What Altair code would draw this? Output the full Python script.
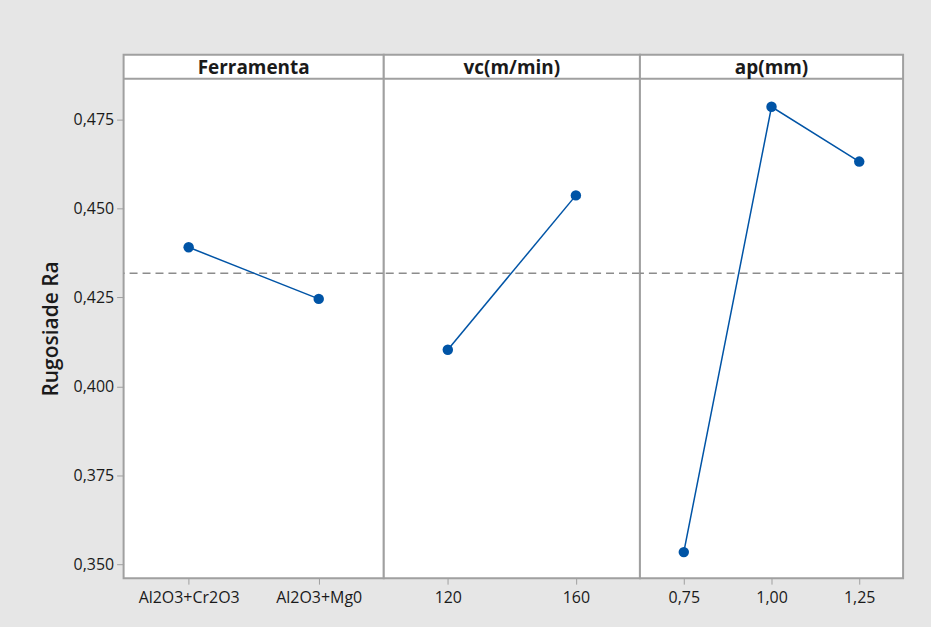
import altair as alt
import pandas as pd

# Main effects for surface roughness Ra (fitted means per factor level)
factors = ["Ferramenta", "vc(m/min)", "ap(mm)"]

ferramenta_levels = ["Al2O3+Cr2O3", "Al2O3+Mg0"]
ferramenta_means = [0.4391, 0.4246]

vc_levels = ["120", "160"]
vc_means = [0.4103, 0.4537]

ap_levels = ["0,75", "1,00", "1,25"]
ap_means = [0.3534, 0.4786, 0.4632]

grand_mean = 0.4318

y_ticks = [0.350, 0.375, 0.400, 0.425, 0.450, 0.475]

FONT = "Open Sans"
BLUE = "#0054a6"
FRAME = "#a0a0a0"
HEADER_H = 24
BODY_H = 501
TOTAL_H = HEADER_H + BODY_H

y_scale = alt.Scale(domain=[0.34608, 0.48649], range=[TOTAL_H, HEADER_H],
                    nice=False, zero=False)


def panel(name, levels, means, width, first):
    df = pd.DataFrame({"level": levels, "Ra": means})
    y_axis = alt.Axis(
        values=y_ticks, format=".3f",
        labelExpr="replace(datum.label, '.', ',')",
        title="Rugosiade Ra", titleFontSize=21, titleFontWeight=600,
        titleFont=FONT, titleColor="#1a1a1a", titlePadding=12,
        tickSize=7, labelPadding=3, domain=False, grid=False,
    ) if first else None
    x = alt.X("level:N", sort=levels, title=None,
              scale=alt.Scale(type="point", padding=0.5),
              axis=alt.Axis(labelAngle=0, tickSize=6, labelPadding=5,
                            domain=False, grid=False))
    y = alt.Y("Ra:Q", scale=y_scale, axis=y_axis)

    base = alt.Chart(df)
    line = base.mark_line(color=BLUE, strokeWidth=1.5).encode(x=x, y=y)
    pts = base.mark_circle(color=BLUE, size=110, opacity=1).encode(x=x, y=y)

    mean_df = pd.DataFrame({"Ra": [grand_mean]})
    ref = alt.Chart(mean_df).mark_rule(
        color="#8c8c8c", strokeWidth=1.5, strokeDash=[8, 5]
    ).encode(y=alt.Y("Ra:Q", scale=y_scale, axis=y_axis))

    head_df = pd.DataFrame({"factor": [name]})
    head_line = alt.Chart(head_df).mark_rule(color=FRAME, strokeWidth=2).encode(
        x=alt.value(0), x2=alt.value(width), y=alt.value(HEADER_H))
    head_text = alt.Chart(head_df).mark_text(
        font=FONT, fontSize=19, fontWeight="bold", color="#1a1a1a",
        baseline="middle", align="center"
    ).encode(text="factor:N", x=alt.value(width / 2), y=alt.value(HEADER_H / 2 + 1))

    return alt.layer(ref, line, pts, head_line, head_text).properties(
        width=width, height=TOTAL_H)


chart = alt.hconcat(
    panel(factors[0], ferramenta_levels, ferramenta_means, 261, True),
    panel(factors[1], vc_levels, vc_means, 257, False),
    panel(factors[2], ap_levels, ap_means, 264, False),
    spacing=0,
    bounds="flush",
).resolve_scale(x="independent", y="independent").configure(
    background="#e6e6e6",
    padding={"left": 39, "top": 53, "right": 26, "bottom": 20},
).configure_view(
    fill="white", stroke=FRAME, strokeWidth=2
).configure_axis(
    labelFont=FONT, labelFontSize=16, labelColor="#1a1a1a",
    tickColor=FRAME, tickWidth=1,
)

chart.save("out.html", embed_options={"renderer": "svg", "actions": False})
